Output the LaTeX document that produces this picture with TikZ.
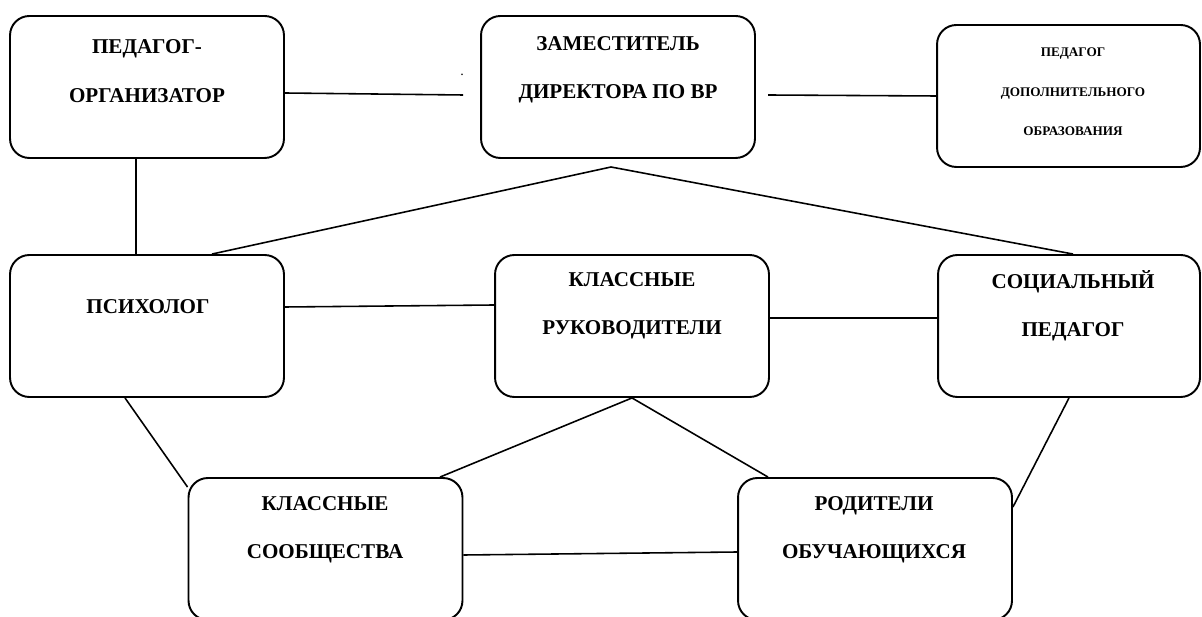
\documentclass[tikz,border=0pt]{standalone}
\usepackage{fontspec}
\setmainfont{Liberation Serif}
\usetikzlibrary{calc}
\tikzset{
  box/.style={draw, rounded corners=11pt, line width=1.1pt, minimum width=5.48cm, minimum height=2.84cm, inner sep=0pt},
  boxtext/.style={align=center, font=\bfseries\fontsize{12}{27.5}\selectfont},
  smalltext/.style={align=center, font=\bfseries\fontsize{7.5}{22.5}\selectfont},
  link/.style={line width=0.9pt}
}
\begin{document}
\begin{tikzpicture}[x=0.02cm, y=-0.02cm]
  \useasboundingbox (0,0) rectangle (1202,617);
  % boxes
  \node[box] (org) at (147,87) {};
  \node[box] (zam) at (618,87) {};
  \node[box, minimum width=5.26cm] (dop) at (1068.5,96) {};
  \node[box] (psy) at (147,326) {};
  \node[box] (kr) at (632,326) {};
  \node[box, minimum width=5.24cm] (soc) at (1069,326) {};
  \node[box] (ks) at (325.5,549) {};
  \node[box] (rod) at (875,549) {};
  % texts
  \node[boxtext] (org-t) at (147,71) {ПЕДАГОГ-\\ОРГАНИЗАТОР};
  \node[boxtext] (zam-t) at (618,70) {ЗАМЕСТИТЕЛЬ\\ДИРЕКТОРА ПО ВР};
  \node[smalltext] (dop-t) at (1073,92) {ПЕДАГОГ\\ДОПОЛНИТЕЛЬНОГО\\ОБРАЗОВАНИЯ};
  \node[boxtext] (psy-t) at (148,307) {ПСИХОЛОГ};
  \node[boxtext] (kr-t) at (632,306) {КЛАССНЫЕ\\РУКОВОДИТЕЛИ};
  \node[boxtext] (soc-t) at (1073,306) {СОЦИАЛЬНЫЙ\\ПЕДАГОГ};
  \node[boxtext] (ks-t) at (325,530) {КЛАССНЫЕ\\СООБЩЕСТВА};
  \node[boxtext] (rod-t) at (874,530) {РОДИТЕЛИ\\ОБУЧАЮЩИХСЯ};
  \node[font=\fontsize{8}{8}\selectfont] (dot) at (462,75) {.};
  % links
  \coordinate (gap) at (463,95);
  \coordinate (zam-r) at (768,95);
  \coordinate (apex) at (611,167);
  \draw[link] ($(org.east)+(0,6)$) -- (gap);
  \draw[link] (zam-r) -- (dop.west);
  \draw[link] ($(org.south)+(-11,0)$) -- ($(psy.north)+(-11,0)$);
  \draw[link] ($(psy.north)+(65,0)$) -- (apex) -- ($(soc.north)+(4,0)$);
  \draw[link] ($(psy.east)+(0,-19)$) -- ($(kr.west)+(0,-21)$);
  \draw[link] ($(kr.east)+(0,-8)$) -- ($(soc.west)+(0,-8)$);
  \draw[link] ($(psy.south)+(-22,0)$) -- ($(ks.north west)+(0,10)$);
  \draw[link] ($(ks.north)+(114.5,0)$) -- (kr.south) -- ($(rod.north)+(-107,0)$);
  \draw[link] ($(ks.east)+(0,6)$) -- ($(rod.west)+(0,3)$);
  \draw[link] (soc.south) -- ($(rod.east)+(0,-42)$);
\end{tikzpicture}
\end{document}
